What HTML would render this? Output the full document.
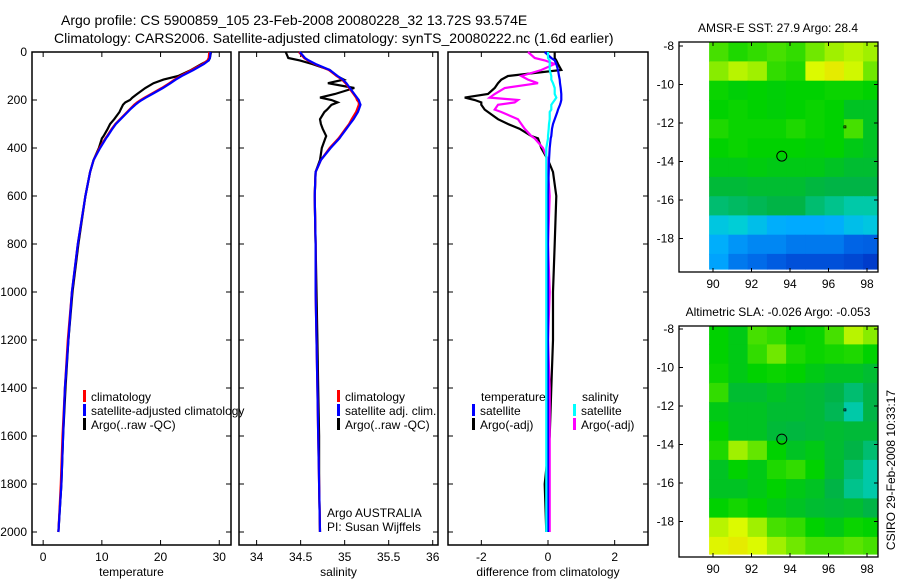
<!DOCTYPE html>
<html><head><meta charset="utf-8">
<style>
html,body{margin:0;padding:0;background:#fff;}
svg{display:block;font-family:"Liberation Sans",sans-serif;}
text{fill:#000;}
</style></head>
<body>
<svg id="fig" width="900" height="580" viewBox="0 0 900 580">
<text x="61" y="25" font-size="14">Argo profile: CS 5900859_105 23-Feb-2008 20080228_32 13.72S 93.574E</text>
<text x="54" y="43" font-size="14">Climatology: CARS2006. Satellite-adjusted climatology: synTS_20080222.nc (1.6d earlier)</text>
</svg>
<script>
const depths=[0,25,35,50,75,100,115,130,150,175,190,200,210,220,240,250,280,300,320,350,360,400,450,500,600,800,1000,1200,1400,1600,1800,2000];
const tempClim=[28.3,28.2,28.0,27.2,25.3,23.4,22.4,21.5,20.2,18.4,17.3,16.6,16.0,15.5,14.7,14.3,13.1,12.3,11.7,10.9,10.6,9.6,8.6,8.0,7.2,5.9,4.9,4.2,3.7,3.3,3.0,2.6];
const tempSat=[28.5,28.4,28.2,27.4,25.6,23.6,22.6,21.7,20.4,18.6,17.5,16.8,16.2,15.7,14.8,14.4,13.2,12.4,11.8,11.0,10.7,9.7,8.6,8.0,7.2,5.9,4.9,4.3,3.7,3.4,3.1,2.6];
const tempArgo=[28.6,28.4,28.2,27.0,25.2,23.0,20.5,18.8,17.4,16.0,15.2,14.8,14.0,13.6,13.2,13.0,12.1,11.4,11.0,10.3,10.0,9.5,8.6,8.0,7.2,6.0,5.0,4.3,3.8,3.4,3.1,2.6];
const salClim=[34.48,34.54,34.58,34.66,34.82,34.91,34.97,35.01,35.05,35.10,35.13,35.14,35.16,35.16,35.14,35.13,35.08,35.05,35.01,34.95,34.93,34.83,34.73,34.67,34.66,34.67,34.67,34.68,34.69,34.70,34.71,34.72];
const salSat=[34.49,34.55,34.59,34.67,34.83,34.92,34.98,35.02,35.06,35.11,35.14,35.16,35.17,35.18,35.16,35.15,35.10,35.06,35.02,34.96,34.94,34.84,34.73,34.67,34.66,34.67,34.67,34.68,34.69,34.70,34.71,34.72];
const salArgo=[34.33,34.36,34.49,34.63,34.83,34.91,34.99,34.81,35.11,34.89,34.72,34.85,34.92,34.85,34.80,34.77,34.72,34.73,34.75,34.79,34.78,34.74,34.72,34.67,34.66,34.67,34.68,34.69,34.70,34.71,34.71,34.72];
const diffTempSat=[-0.1,0.1,0.2,0.25,0.3,0.33,0.35,0.36,0.38,0.4,0.4,0.4,0.38,0.36,0.3,0.28,0.2,0.15,0.12,0.1,0.08,0.05,0.03,0.02,0.0,0.0,0.0,0.0,0.0,0.0,0.0,0.0];
const diffTempArgo=[0.2,0.2,0.25,0.3,0.4,-1.2,-1.4,-1.5,-1.6,-1.8,-2.5,-2.2,-2.0,-2.0,-1.9,-1.8,-1.5,-1.2,-0.85,-0.5,-0.3,-0.2,0.0,0.15,0.25,0.2,0.15,0.15,0.1,0.05,-0.1,-0.05];
const diffSalSat=[0.0,0.0,0.05,0.05,0.05,0.1,0.1,0.15,0.2,0.2,0.25,0.2,0.15,0.1,0.1,0.05,0.05,0.03,0.02,0.0,0.0,-0.05,-0.05,-0.05,-0.05,-0.05,-0.05,-0.05,-0.05,-0.05,-0.05,-0.05];
const diffSalArgo=[-0.6,-0.4,-0.1,0.2,-0.2,-0.8,-0.6,-0.3,-1.3,-1.6,-1.75,-0.9,-1.0,-1.5,-1.6,-1.4,-0.9,-0.8,-0.7,-0.5,-0.4,-0.15,0.0,0.0,0.05,0.0,0.05,0.0,0.05,0.05,0.05,0.05];
const tempTicks=[0,10,20,30];
const salTicks=[34,34.5,35,35.5,36];
const diffTicks=[-2,0,2];
const depthTicks=[0,200,400,600,800,1000,1200,1400,1600,1800,2000];
const lonTicks=[90,92,94,96,98];
const latTicks=[-8,-10,-12,-14,-16,-18];
const sstGrid=[
[.62,.58,.60,.62,.60,.66,.70,.72,.70],
[.68,.72,.70,.60,.58,.75,.78,.74,.66],
[.56,.54,.55,.54,.55,.55,.56,.56,.55],
[.55,.56,.55,.54,.55,.56,.55,.50,.50],
[.58,.56,.56,.56,.58,.56,.55,.62,.50],
[.55,.56,.55,.55,.55,.54,.55,.52,.50],
[.52,.52,.53,.52,.52,.52,.50,.48,.48],
[.47,.47,.48,.48,.48,.46,.45,.45,.45],
[.42,.43,.44,.45,.45,.42,.40,.38,.38],
[.32,.34,.30,.26,.25,.25,.26,.30,.32],
[.26,.22,.20,.20,.18,.18,.18,.15,.14],
[.24,.18,.16,.13,.10,.10,.10,.08,.05]];
const slaGrid=[
[.55,.52,.62,.60,.55,.56,.62,.72,.68],
[.55,.52,.60,.66,.58,.56,.57,.58,.55],
[.56,.52,.55,.56,.55,.52,.50,.50,.48],
[.60,.48,.48,.50,.48,.47,.45,.42,.45],
[.52,.50,.50,.48,.48,.47,.44,.38,.45],
[.55,.50,.50,.47,.46,.47,.48,.47,.47],
[.58,.70,.65,.55,.50,.52,.48,.45,.42],
[.50,.55,.52,.58,.60,.55,.48,.42,.38],
[.50,.50,.52,.55,.52,.50,.45,.40,.38],
[.55,.57,.55,.52,.50,.48,.47,.48,.45],
[.72,.75,.70,.62,.60,.55,.52,.56,.55],
[.76,.78,.75,.70,.66,.62,.62,.64,.62]];
const gridLon0=89.8, gridLat0=-7.8;
const argoLon=93.574, argoLat=-13.72;

const NS="http://www.w3.org/2000/svg";
const svg=document.getElementById('fig');
function mk(tag,attrs,parent){const e=document.createElementNS(NS,tag);for(const k in attrs)e.setAttribute(k,attrs[k]);(parent||svg).appendChild(e);return e;}
const yDepth=d=>52+d*0.24;
const defs=mk('defs',{});

function panel(name,x0,x1,xmin,xmax,ticks,xlabel,showY){
  const g=mk('g',{});
  
  
  const sx=v=>x0+(v-xmin)/(xmax-xmin)*(x1-x0);
  const r=mk('rect',{x:x0,y:52,width:x1-x0,height:493,fill:'none',stroke:'#000','stroke-width':1.5},g);
  
  
  ticks.forEach(t=>{
    const x=sx(t);
    mk('line',{x1:x,y1:545,x2:x,y2:540,stroke:'#000'},g);
    mk('line',{x1:x,y1:52,x2:x,y2:57,stroke:'#000'},g);
    const tx=mk('text',{x:x,y:561,'font-size':12,'text-anchor':'middle'},g);
    tx.textContent=t;
    
    
  });
  depthTicks.forEach(d=>{
    const y=yDepth(d);
    mk('line',{x1:x0,y1:y,x2:x0+5,y2:y,stroke:'#000'},g);
    mk('line',{x1:x1,y1:y,x2:x1-5,y2:y,stroke:'#000'},g);
    if(showY){
      const tx=mk('text',{x:x0-5,y:y+4,'font-size':12,'text-anchor':'end'},g);
      tx.textContent=d;
      
      
    }
  });
  const xl=mk('text',{x:(x0+x1)/2,y:576,'font-size':12,'text-anchor':'middle'},g);
  xl.textContent=xlabel;
  
  
  return {g,sx};
}
function series(p,vals,color,name){
  const pts=vals.map((v,i)=>p.sx(v).toFixed(1)+','+yDepth(depths[i]).toFixed(1)).join(' ');
  const l=mk('polyline',{points:pts,fill:'none',stroke:color,'stroke-width':2.2,'stroke-linejoin':'miter'},p.g);
  
  
}
function legend(g,x,y,color,label,name){
  if(color){mk('rect',{x:x,y:y-11,width:3,height:12,fill:color},g);}
  const t=mk('text',{x:x+(color?8:0),y:y,'font-size':12},g);
  t.textContent=label;
  
  
}

const p1=panel('temperature-panel',32,231,-1.9,32,tempTicks,'temperature',true);
series(p1,tempArgo,'#000','argo-temperature-line');
series(p1,tempClim,'#f00','climatology-temperature-line');
series(p1,tempSat,'#00f','satellite-temperature-line');
legend(p1.g,83,401,'#f00','climatology','legend-climatology');
legend(p1.g,83,415,'#00f','satellite-adjusted climatology','legend-satellite-adjusted');
legend(p1.g,83,429,'#000','Argo(..raw -QC)','legend-argo');

const p2=panel('salinity-panel',239,438,33.8,36.06,salTicks,'salinity',false);
series(p2,salArgo,'#000','argo-salinity-line');
series(p2,salClim,'#f00','climatology-salinity-line');
series(p2,salSat,'#00f','satellite-salinity-line');
legend(p2.g,337,401,'#f00','climatology','legend-climatology-sal');
legend(p2.g,337,415,'#00f','satellite adj. clim.','legend-satellite-sal');
legend(p2.g,337,429,'#000','Argo(..raw -QC)','legend-argo-sal');
legend(p2.g,327,517,null,'Argo AUSTRALIA','argo-australia-label');
legend(p2.g,327,531,null,'PI: Susan Wijffels','pi-label');

const p3=panel('difference-panel',448,648,-3,3,diffTicks,'difference from climatology',false);
series(p3,diffTempArgo,'#000','argo-temp-diff-line');
series(p3,diffSalArgo,'#f0f','argo-sal-diff-line');
series(p3,diffTempSat,'#00f','satellite-temp-diff-line');
series(p3,diffSalSat,'#0ff','satellite-sal-diff-line');
legend(p3.g,481,401,null,'temperature','legend-temperature-header');
legend(p3.g,472,415,'#00f','satellite','legend-temp-satellite');
legend(p3.g,472,429,'#000','Argo(-adj)','legend-temp-argo');
legend(p3.g,582,401,null,'salinity','legend-salinity-header');
legend(p3.g,573,415,'#0ff','satellite','legend-sal-satellite');
legend(p3.g,573,429,'#f0f','Argo(-adj)','legend-sal-argo');

const cstops=[[0,[0,40,190]],[.15,[0,100,230]],[.25,[0,170,255]],[.35,[0,210,210]],[.45,[0,180,70]],[.55,[0,210,0]],[.65,[100,230,0]],[.75,[220,250,0]],[.85,[250,200,0]],[1,[250,120,0]]];
function cmap(v){
  for(let i=1;i<cstops.length;i++){
    if(v<=cstops[i][0]){const a=cstops[i-1],b=cstops[i];const t=(v-a[0])/(b[0]-a[0]);
      const c=a[1].map((q,k)=>Math.round(q+(b[1][k]-q)*t));return 'rgb('+c.join(',')+')';}
  }
  return 'rgb(250,120,0)';
}
function mapPanel(name,y0,y1,lat8y,grid,title){
  const g=mk('g',{});
  
  
  const x0=679,x1=878,k=19.25;
  const cp=mk('clipPath',{id:name+'-clip'},defs);
  mk('rect',{x:x0,y:y0,width:x1-x0,height:y1-y0},cp);
  const cells=mk('g',{'clip-path':'url(#'+name+'-clip)'},g);
  const sx=lon=>713+(lon-90)*k;
  const sy=lat=>lat8y+(-8-lat)*k;
  grid.forEach((row,ri)=>row.forEach((v,ci)=>{
    const la=gridLat0-ri, lo=gridLon0+ci;
    const yA=sy(la), yB=Math.min(sy(la-1),y1-3);
    const c=mk('rect',{x:sx(lo).toFixed(1),y:yA.toFixed(1),width:(k+0.6).toFixed(1),height:(yB-yA+0.6).toFixed(1),fill:cmap(v)},cells);
    
    
  }));
  const fr=mk('rect',{x:x0,y:y0,width:x1-x0,height:y1-y0,fill:'none',stroke:'#000','stroke-width':1.3},g);
  
  
  lonTicks.forEach(l=>{const x=sx(l);
    mk('line',{x1:x,y1:y1,x2:x,y2:y1-4,stroke:'#000'},g);mk('line',{x1:x,y1:y0,x2:x,y2:y0+4,stroke:'#000'},g);
    const t=mk('text',{x:x,y:y1+16,'font-size':12,'text-anchor':'middle'},g);t.textContent=l;
    
    });
  latTicks.forEach(l=>{const y=sy(l);
    mk('line',{x1:x0,y1:y,x2:x0+4,y2:y,stroke:'#000'},g);mk('line',{x1:x1,y1:y,x2:x1-4,y2:y,stroke:'#000'},g);
    const t=mk('text',{x:x0-5,y:y+4,'font-size':12,'text-anchor':'end'},g);t.textContent=l;
    
    });
  const c=mk('circle',{cx:sx(argoLon),cy:sy(argoLat),r:5,fill:'none',stroke:'#000','stroke-width':1},g);
  
  
  mk('rect',{x:sx(96.8),y:sy(-12.15),width:2,height:2,fill:'none',stroke:'#000','stroke-width':0.8},g);
  const tt=mk('text',{x:778,y:y0-10,'font-size':12,'text-anchor':'middle'},g);
  tt.textContent=title;
  
  
}
mapPanel('sst-map',42,272,46,sstGrid,'AMSR-E SST: 27.9 Argo: 28.4');
mapPanel('sla-map',326,557,329,slaGrid,'Altimetric SLA: -0.026 Argo: -0.053');
const cs=mk('text',{x:895,y:470,'font-size':12,'text-anchor':'middle',transform:'rotate(-90 895 470)'});
cs.textContent='CSIRO 29-Feb-2008 10:33:17';


</script>
</body></html>
